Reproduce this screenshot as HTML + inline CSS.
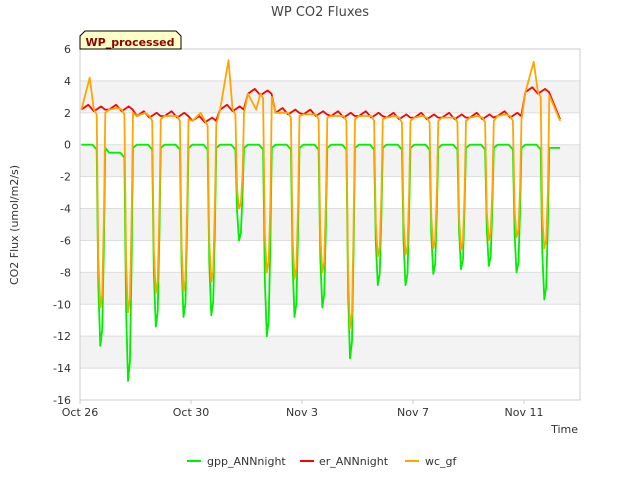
<!DOCTYPE html>
<html><head><meta charset="utf-8"><style>
body{margin:0;background:#fff;font-family:"Liberation Sans","DejaVu Sans",sans-serif}
</style></head><body>
<svg id="chart" width="640" height="480" xmlns="http://www.w3.org/2000/svg" font-family="DejaVu Sans, Liberation Sans, sans-serif">
<text x="320" y="16" text-anchor="middle" font-size="13" fill="#444">WP CO2 Fluxes</text>
<g id="grid"></g>
<g id="series"></g>
<g id="axes"></g>
<g>
<path d="M80,49 L80,36 L85,31 L176,31 L181,36 L181,49 Z" fill="#ffffc8" stroke="#000" stroke-width="1"/>
<text x="130" y="46" text-anchor="middle" font-size="11" font-weight="bold" fill="#8b0000">WP_processed</text>
</g>
<text transform="translate(18,225) rotate(-90)" text-anchor="middle" font-size="11" fill="#333">CO2 Flux (umol/m2/s)</text>
<text x="578" y="433" text-anchor="end" font-size="11" fill="#333">Time</text>
<g font-size="11" fill="#333">
<g><line x1="187" y1="461" x2="201" y2="461" stroke="#00ee00" stroke-width="2"/><text x="207" y="465">gpp_ANNnight</text></g>
<g><line x1="300" y1="461" x2="314" y2="461" stroke="#ff0000" stroke-width="2"/><text x="319" y="465">er_ANNnight</text></g>
<g><line x1="405" y1="461" x2="419" y2="461" stroke="#ffa500" stroke-width="2"/><text x="425" y="465">wc_gf</text></g>
</g>
</svg>
<script>
const yTicks=[6,4,2,0,-2,-4,-6,-8,-10,-12,-14,-16];
const xTickDays=[0,4,8,12,16];
const xTickLabels=["Oct 26","Oct 30","Nov 3","Nov 7","Nov 11"];
const greyBands=[[2,4],[-2,0],[-6,-4],[-10,-8],[-14,-12]];
const days=[0,1,2,3,4,5,6,7,8,9,10,11,12,13,14,15,16];
const gppMin=[-12.6,-14.8,-11.4,-10.8,-10.7,-6,-12,-10.8,-10.2,-13.4,-8.8,-8.8,-8.1,-7.8,-7.6,-8,-9.7];
const wcMin=[-10.2,-10.5,-9.3,-9.2,-8.6,-4,-8,-8.4,-8,-11.5,-7,-6.9,-6.5,-6.6,-6,-5.8,-6.5];
const erLevel=[2.2,2.2,1.8,1.8,1.5,2.2,3.2,2.0,1.9,1.8,1.8,1.7,1.7,1.7,1.7,1.8,3.3];
const wcPeak=[4.2,2.3,2.0,1.8,2.0,5.3,2.2,2.0,1.9,1.8,1.8,1.8,1.8,1.7,1.8,1.9,5.2];
const gppNight=[0,-0.5,0,0,0,0,0,0,0,0,0,0,0,0,0,0,0];
const NS="http://www.w3.org/2000/svg";
const X0=80,X1=580,Y0=49,Y1=400,pxDay=27.75;
const xs=d=>X0+d*pxDay, ys=v=>Y0+(6-v)*(Y1-Y0)/22;
function mk(t,a,p){const e=document.createElementNS(NS,t);for(const k in a)e.setAttribute(k,a[k]);(p||document.getElementById('series')).appendChild(e);return e;}
const grid=document.getElementById('grid'),axes=document.getElementById('axes');
for(const b of greyBands){const r=mk('rect',{x:X0,y:ys(b[1]),width:X1-X0,height:ys(b[0])-ys(b[1]),fill:'#f3f3f3'},grid);

}
for(const t of yTicks){const l=mk('line',{x1:X0,x2:X1,y1:ys(t),y2:ys(t),stroke:'#dddddd'},grid);


const tx=mk('text',{x:X0-9,y:ys(t)+4,'text-anchor':'end','font-size':'11',fill:'#333'},axes);tx.textContent=t;

}
xTickDays.forEach((d,i)=>{const tx=mk('text',{x:xs(d),y:416,'text-anchor':'middle','font-size':'11',fill:'#333'},axes);tx.textContent=xTickLabels[i];


const l=mk('line',{x1:xs(d),x2:xs(d),y1:Y1,y2:Y1+4,stroke:'#ccc'},axes);

});
const fr=mk('rect',{x:X0,y:Y0,width:X1-X0,height:Y1-Y0,fill:'none',stroke:'#cccccc'},axes);


const gpp=[],er=[],wc=[];
days.forEach((d,i)=>{
  const e=erLevel[i];
  gpp.push([d+0.05,gppNight[i]],[d+0.45,gppNight[i]],[d+0.6,gppNight[i]-0.3],[d+0.66,gppMin[i]*0.7],[d+0.73,gppMin[i]],[d+0.8,gppMin[i]*0.92],[d+0.86,gppMin[i]*0.5],[d+0.91,-0.2]);
  er.push([d+0.05,e],[d+0.3,e+0.3],[d+0.5,e-0.1],[d+0.76,e+0.2],[d+0.9,e]);
  wc.push([d+0.05,e],[d+0.35,wcPeak[i]],[d+0.5,e],[d+0.6,e-0.3],[d+0.66,wcMin[i]*0.7],[d+0.73,wcMin[i]],[d+0.8,wcMin[i]*0.92],[d+0.86,wcMin[i]*0.45],[d+0.91,e-0.2]);
});
gpp.push([17.3,-0.2]);er.push([17.3,1.6]);wc.push([17.3,1.5]);
function line(arr,col,name){const p=mk('polyline',{points:arr.map(q=>xs(q[0]).toFixed(1)+','+ys(q[1]).toFixed(1)).join(' '),fill:'none',stroke:col,'stroke-width':'1.8','stroke-linejoin':'round'});

}
line(gpp,'#00ee00','gpp-line');line(er,'#ff0000','er-line');line(wc,'#ffa500','wc-line');
</script>
</body></html>
